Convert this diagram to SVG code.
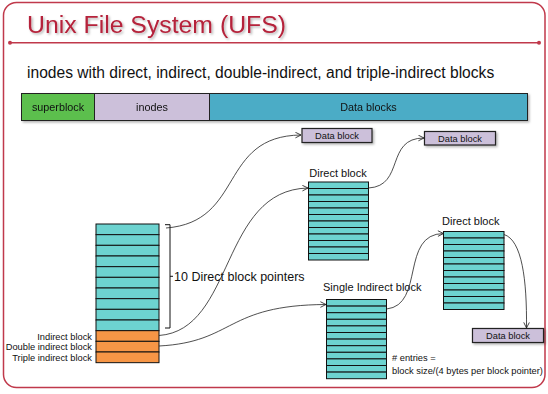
<svg xmlns="http://www.w3.org/2000/svg" width="548" height="394" viewBox="0 0 548 394">
<style>
text{font-family:"Liberation Sans",Arial,sans-serif;fill:#111}
.row{fill:#6dd3d0;stroke:#111;stroke-width:1}
.org{fill:#f79646;stroke:#111;stroke-width:1}
.db{fill:#ccc0da;stroke:#222;stroke-width:1.2}
.lbl{font-size:11px}
.bt{font-size:10.8px}
.sm{font-size:9.3px}
.conn{fill:none;stroke:#222;stroke-width:0.8;marker-end:url(#arr)}
</style>
<defs>
<marker id="arr" viewBox="0 0 10 10" refX="9" refY="5" markerWidth="7" markerHeight="7" orient="auto" markerUnits="userSpaceOnUse">
<path d="M1 1 L9 5 L1 9" fill="none" stroke="#222" stroke-width="1.2"/>
</marker>
<filter id="sh" x="-10%" y="-10%" width="130%" height="140%">
<feDropShadow dx="1.5" dy="1.5" stdDeviation="1" flood-color="#000" flood-opacity="0.3"/>
</filter>
</defs>
<rect width="548" height="394" fill="#fff"/>
<g id="frame">
<rect x="3.5" y="2.5" width="541.5" height="385" rx="13" fill="none" stroke="#c0394b" stroke-width="1.5"/>
<line x1="10" y1="42.7" x2="539" y2="42.7" stroke="#c0394b" stroke-width="1.5"/>
<circle cx="10" cy="42.7" r="2" fill="#c0394b"/>
<circle cx="539" cy="42.7" r="2" fill="#c0394b"/>
<text x="27" y="33" font-size="24.8" style="fill:#b5223a" filter="url(#sh)">Unix File System (UFS)</text>
<text x="27" y="78" font-size="15.6">inodes with direct, indirect, double-indirect, and triple-indirect blocks</text>
</g>
<g id="bar" filter="url(#sh)">
<rect x="21.5" y="93.5" width="73" height="27" fill="#5bbf4e" stroke="#222"/>
<rect x="94.5" y="93.5" width="115" height="27" fill="#ccc0da" stroke="#222"/>
<rect x="209.5" y="93.5" width="318" height="27" fill="#4bacc6" stroke="#222"/>
<text class="bt" x="58" y="110.5" text-anchor="middle">superblock</text>
<text class="bt" x="152" y="110.5" text-anchor="middle">inodes</text>
<text class="bt" x="368.5" y="110.5" text-anchor="middle">Data blocks</text>
</g>
<g id="inode">
<rect class="row" x="96" y="224" width="63" height="10.67"/>
<rect class="row" x="96" y="234.67" width="63" height="10.67"/>
<rect class="row" x="96" y="245.33" width="63" height="10.67"/>
<rect class="row" x="96" y="256" width="63" height="10.67"/>
<rect class="row" x="96" y="266.67" width="63" height="10.67"/>
<rect class="row" x="96" y="277.33" width="63" height="10.67"/>
<rect class="row" x="96" y="288" width="63" height="10.67"/>
<rect class="row" x="96" y="298.67" width="63" height="10.67"/>
<rect class="row" x="96" y="309.33" width="63" height="10.67"/>
<rect class="row" x="96" y="320" width="63" height="10.67"/>
<rect class="org" x="96" y="330.67" width="63" height="10.67"/>
<rect class="org" x="96" y="341.33" width="63" height="10.67"/>
<rect class="org" x="96" y="352" width="63" height="10.67"/>
<text class="sm" x="92" y="339.5" text-anchor="end">Indirect block</text>
<text class="sm" x="92" y="350" text-anchor="end">Double indirect block</text>
<text class="sm" x="92" y="360.5" text-anchor="end">Triple indirect block</text>
<path d="M165 224.7 H170 V328 H165 M170 276.3 H173" fill="none" stroke="#111" stroke-width="1"/>
<text x="174" y="281" font-size="12.5">10 Direct block pointers</text>
</g>
<g id="direct1">
<text class="lbl" x="338" y="177" text-anchor="middle">Direct block</text>
<rect class="row" x="308.5" y="182" width="60" height="6.5"/>
<rect class="row" x="308.5" y="188.5" width="60" height="6.5"/>
<rect class="row" x="308.5" y="195" width="60" height="6.5"/>
<rect class="row" x="308.5" y="201.5" width="60" height="6.5"/>
<rect class="row" x="308.5" y="208" width="60" height="6.5"/>
<rect class="row" x="308.5" y="214.5" width="60" height="6.5"/>
<rect class="row" x="308.5" y="221" width="60" height="6.5"/>
<rect class="row" x="308.5" y="227.5" width="60" height="6.5"/>
<rect class="row" x="308.5" y="234" width="60" height="6.5"/>
<rect class="row" x="308.5" y="240.5" width="60" height="6.5"/>
<rect class="row" x="308.5" y="247" width="60" height="6.5"/>
<rect class="row" x="308.5" y="253.5" width="60" height="6.5"/>
</g>
<g id="single">
<text class="lbl" x="323" y="291">Single Indirect block</text>
<rect class="row" x="326.5" y="299.5" width="60" height="6.6"/>
<rect class="row" x="326.5" y="306.1" width="60" height="6.6"/>
<rect class="row" x="326.5" y="312.7" width="60" height="6.6"/>
<rect class="row" x="326.5" y="319.3" width="60" height="6.6"/>
<rect class="row" x="326.5" y="325.9" width="60" height="6.6"/>
<rect class="row" x="326.5" y="332.5" width="60" height="6.6"/>
<rect class="row" x="326.5" y="339.1" width="60" height="6.6"/>
<rect class="row" x="326.5" y="345.7" width="60" height="6.6"/>
<rect class="row" x="326.5" y="352.3" width="60" height="6.6"/>
<rect class="row" x="326.5" y="358.9" width="60" height="6.6"/>
<rect class="row" x="326.5" y="365.5" width="60" height="6.6"/>
<rect class="row" x="326.5" y="372.1" width="60" height="6.6"/>
<text class="sm" x="392" y="361"># entries =</text>
<text class="sm" x="392" y="374">block size/(4 bytes per block pointer)</text>
</g>
<g id="direct2">
<text class="lbl" x="442" y="225">Direct block</text>
<rect class="row" x="443.5" y="231.5" width="60.5" height="6.5"/>
<rect class="row" x="443.5" y="238" width="60.5" height="6.5"/>
<rect class="row" x="443.5" y="244.5" width="60.5" height="6.5"/>
<rect class="row" x="443.5" y="251" width="60.5" height="6.5"/>
<rect class="row" x="443.5" y="257.5" width="60.5" height="6.5"/>
<rect class="row" x="443.5" y="264" width="60.5" height="6.5"/>
<rect class="row" x="443.5" y="270.5" width="60.5" height="6.5"/>
<rect class="row" x="443.5" y="277" width="60.5" height="6.5"/>
<rect class="row" x="443.5" y="283.5" width="60.5" height="6.5"/>
<rect class="row" x="443.5" y="290" width="60.5" height="6.5"/>
<rect class="row" x="443.5" y="296.5" width="60.5" height="6.5"/>
<rect class="row" x="443.5" y="303" width="60.5" height="6.5"/>
</g>
<g id="data1">
<rect class="db" x="302" y="128.5" width="70" height="14" filter="url(#sh)"/>
<text class="sm" x="337" y="138.8" text-anchor="middle">Data block</text>
</g>
<g id="data2">
<rect class="db" x="424.5" y="131.5" width="71" height="13.5" filter="url(#sh)"/>
<text class="sm" x="460" y="141.8" text-anchor="middle">Data block</text>
</g>
<g id="data3">
<rect class="db" x="472.5" y="328.5" width="71" height="14" filter="url(#sh)"/>
<text class="sm" x="508" y="338.8" text-anchor="middle">Data block</text>
</g>
<g id="connectors">
<path class="conn" d="M166 228 C 245 222, 218 136, 301 135"/>
<path class="conn" d="M159 335.5 C 235 330, 220 190, 308 188"/>
<path class="conn" d="M159 346 C 235 342, 225 305, 326 304.5"/>
<path class="conn" d="M368.5 188 C 405 186, 385 138, 424 138"/>
<path class="conn" d="M386.5 309 C 425 305, 400 234, 443.5 233.5"/>
<path class="conn" d="M504 234.5 C 522 240, 527 280, 526.5 328"/>
</g>
</svg>
